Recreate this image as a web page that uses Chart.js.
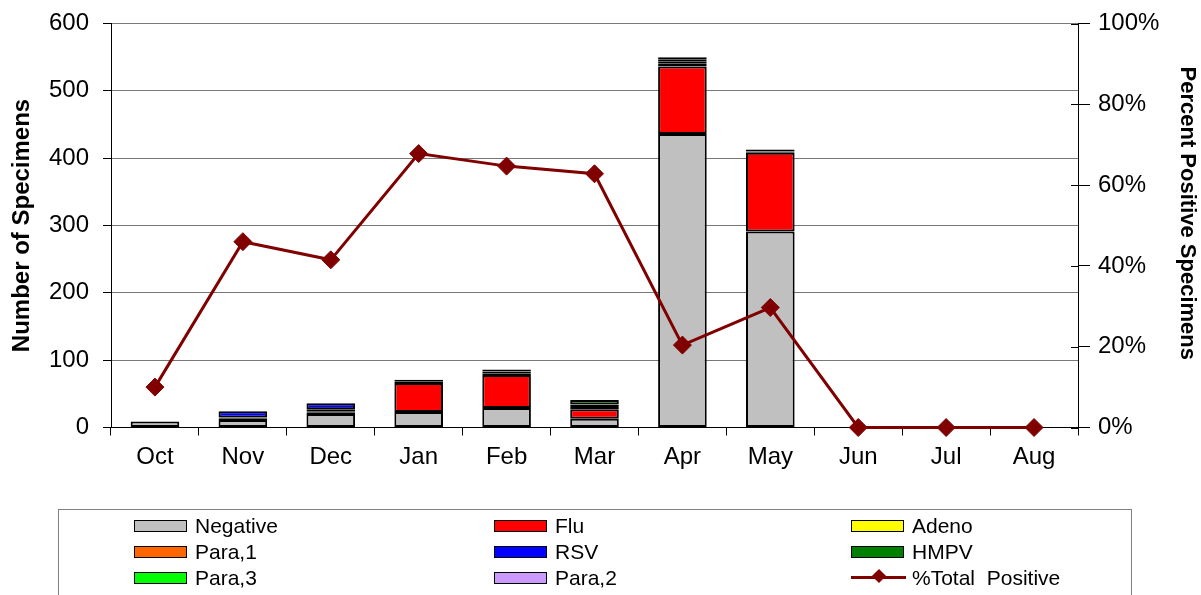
<!DOCTYPE html>
<html>
<head>
<meta charset="utf-8">
<script src="https://cdn.jsdelivr.net/npm/chart.js@4.4.1/dist/chart.umd.min.js"></script>
<style>
  body { margin: 0; background: #fff; }
  #wrap { position: relative; width: 1201px; height: 595px; overflow: hidden; }
  #legend { position: absolute; left: 58px; top: 509px; width: 1072px; height: 100px;
    border: 1px solid #808080; font-family: "Liberation Sans", Arial, sans-serif; font-size: 21px; }
  .item { position: absolute; height: 26px; line-height: 26px; white-space: pre; }
  .sw { position: absolute; left: 0; top: 7px; width: 51px; height: 10px; border: 1.5px solid #000; }
  .txt { position: absolute; left: 61px; top: 0; }
  .ln { position: absolute; left: 0; top: 11px; width: 55px; height: 3px; background: #800000; }
  .dm { position: absolute; left: 23px; top: 6px; width: 10px; height: 10px; background: #800000; transform: rotate(45deg); }
</style>
</head>
<body>
<div id="wrap">
  <canvas id="chart" width="1201" height="595"></canvas>
  <div id="legend"></div>
</div>
<script>
let months   = ['Oct', 'Nov', 'Dec', 'Jan', 'Feb', 'Mar', 'Apr', 'May', 'Jun', 'Jul', 'Aug'];
let negative = [9, 11, 20, 23, 29, 13, 436, 291, 0, 0, 0];
let flu      = [0, 2, 2, 43, 49, 14, 100, 117, 0, 0, 0];
let adeno    = [0, 0, 2, 2, 2, 2, 5, 2, 0, 0, 0];
let para1    = [0, 2, 3, 3, 3, 3, 3, 3, 0, 0, 0];
let rsv      = [0, 9, 9, 0, 3, 2, 3, 0, 0, 0, 0];
let hmpv     = [0, 0, 0, 0, 0, 7, 3, 0, 0, 0, 0];
let para3    = [0, 0, 0, 0, 0, 0, 0, 0, 0, 0, 0];
let para2    = [0, 0, 0, 0, 0, 0, 0, 0, 0, 0, 0];
let pctPositive = [0.10, 0.46, 0.415, 0.678, 0.647, 0.628, 0.204, 0.297, 0, 0, 0];
let leftTicks  = [0, 100, 200, 300, 400, 500, 600];
let rightTicks = [0, 0.2, 0.4, 0.6, 0.8, 1];

let barSeries = [
  {label: 'Negative', data: negative, color: '#C0C0C0'},
  {label: 'Flu',      data: flu,      color: '#FF0000'},
  {label: 'Adeno',    data: adeno,    color: '#FFFF00'},
  {label: 'Para,1',   data: para1,    color: '#FF6600'},
  {label: 'RSV',      data: rsv,      color: '#0000FF'},
  {label: 'HMPV',     data: hmpv,     color: '#008000'},
  {label: 'Para,3',   data: para3,    color: '#00FF00'},
  {label: 'Para,2',   data: para2,    color: '#CC99FF'}
];

let datasets = barSeries.map(function(s){
  return {
    type: 'bar',
    label: s.label,
    data: s.data,
    backgroundColor: s.color,
    borderColor: '#000',
    borderWidth: 2,
    borderSkipped: false,
    inflateAmount: 0,
    barPercentage: 0.553,
    categoryPercentage: 1,
    yAxisID: 'y',
    order: 1
  };
});
datasets.push({
  type: 'line',
  label: '%Total  Positive',
  data: pctPositive,
  borderColor: '#800000',
  backgroundColor: '#800000',
  borderWidth: 3,
  pointStyle: 'rectRot',
  pointRadius: 9,
  pointBorderWidth: 1,
  pointBackgroundColor: '#800000',
  pointBorderColor: '#800000',
  tension: 0,
  clip: false,
  yAxisID: 'y1',
  order: 0
});

// right axis ticks cross the axis line
let crossTicks = {
  id: 'crossTicks',
  afterDraw(chart){
    let s = chart.scales.y1, ctx = chart.ctx;
    ctx.save();
    ctx.strokeStyle = '#000';
    ctx.lineWidth = 1;
    rightTicks.forEach(function(v){
      let y = Math.round(s.getPixelForValue(v)) + 0.5;
      ctx.beginPath();
      ctx.moveTo(s.left - 7, y);
      ctx.lineTo(s.left, y);
      ctx.stroke();
    });
    ctx.restore();
  }
};

Chart.defaults.font.family = '"Liberation Sans", Arial, sans-serif';
Chart.defaults.color = '#000';

function fixWidth(w){
  return function(scale){
    scale.width = w;
    scale.paddingTop = 0;
    scale.paddingBottom = 0;
  };
}

let ctx = document.getElementById('chart').getContext('2d');
window.myChart = new Chart(ctx, {
  data: { labels: months, datasets: datasets },
  plugins: [crossTicks],
  options: {
    responsive: false,
    animation: false,
    layout: { padding: { top: 23.5, left: 0, right: 0, bottom: 0 } },
    plugins: { legend: { display: false }, tooltip: { enabled: false } },
    scales: {
      x: {
        stacked: true,
        offset: true,
        afterFit: function(scale){ scale.height = 167.5; },
        grid: { offset: true, drawOnChartArea: false, tickLength: 8, tickColor: '#000' },
        border: { color: '#000', width: 1 },
        ticks: { font: { size: 24 }, padding: 7, maxRotation: 0 }
      },
      y: {
        position: 'left',
        stacked: true,
        min: 0,
        max: 600,
        afterFit: fixWidth(111),
        afterBuildTicks: function(scale){ scale.ticks = leftTicks.map(v => ({value: v})); },
        grid: { color: '#787878', tickLength: 8, tickColor: '#000' },
        border: { color: '#000', width: 1 },
        ticks: { font: { size: 24 }, padding: 14 },
        title: { display: true, text: 'Number of Specimens', font: { size: 24, weight: 'bold' }, padding: { top: 8, bottom: 0 } }
      },
      y1: {
        position: 'right',
        min: 0,
        max: 1,
        afterFit: fixWidth(123),
        afterBuildTicks: function(scale){ scale.ticks = rightTicks.map(v => ({value: v})); },
        grid: { drawOnChartArea: false, tickLength: 12, tickColor: '#000' },
        border: { color: '#000', width: 1 },
        ticks: { font: { size: 24 }, padding: 8, callback: v => Math.round(v * 100) + '%' },
        title: { display: true, text: 'Percent Positive Specimens    ', font: { size: 22, weight: 'bold' }, padding: { top: 1, bottom: 0 } }
      }
    }
  }
});

// legend: 3 columns, built from the same series
let legend = document.getElementById('legend');
let colX = [75, 435, 792];
let rowY = [3, 29, 55];
let entries = barSeries.map(s => ({label: s.label, color: s.color}));
entries.push({label: '%Total  Positive', line: true});
entries.forEach(function(e, i){
  let item = document.createElement('div');
  item.className = 'item';
  item.style.left = colX[i % 3] + 'px';
  item.style.top = rowY[Math.floor(i / 3)] + 'px';
  if (e.line) {
    item.innerHTML = '<div class="ln"></div><div class="dm"></div>';
  } else {
    item.innerHTML = '<div class="sw" style="background:' + e.color + '"></div>';
  }
  let t = document.createElement('span');
  t.className = 'txt';
  t.textContent = e.label;
  item.appendChild(t);
  legend.appendChild(item);
});
</script>
</body>
</html>
